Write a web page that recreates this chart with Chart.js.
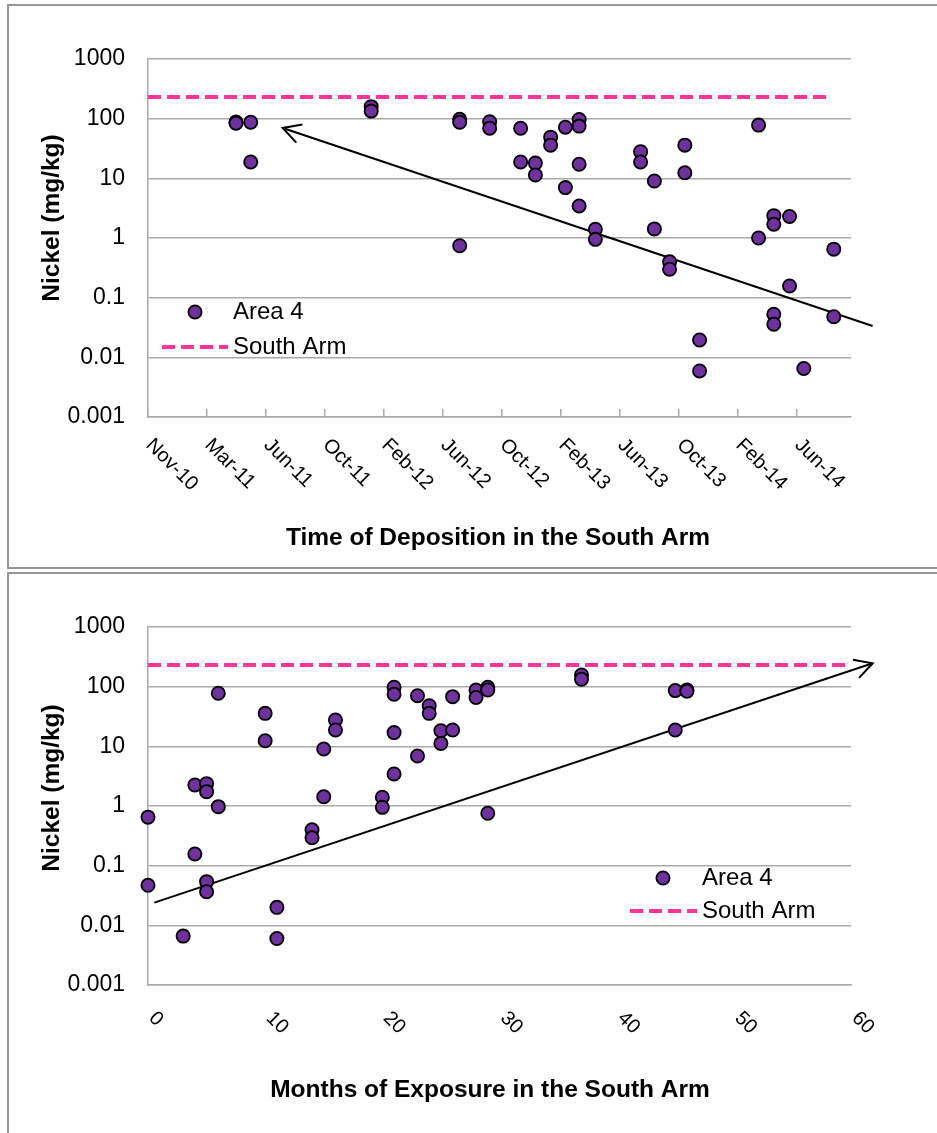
<!DOCTYPE html>
<html>
<head>
<meta charset="utf-8">
<script src="https://cdn.jsdelivr.net/npm/chart.js@4.4.0/dist/chart.umd.min.js"></script>
<style>
body{margin:0;background:#fff;width:937px;height:1133px;overflow:hidden;position:relative}
.panel{position:absolute;left:7px;width:980px;border:2px solid #969696;box-sizing:border-box}
#p1{top:4px;height:565px}
#p2{top:572px;height:600px}
canvas{position:absolute;left:0}
#c1{top:0}
#c2{top:570px}
</style>
</head>
<body>
<div class="panel" id="p1"></div>
<div class="panel" id="p2"></div>
<canvas id="c1" width="937" height="570"></canvas>
<canvas id="c2" width="937" height="563"></canvas>
<script>
// top chart: time of deposition
const depTickLabels = ['Nov-10','Mar-11','Jun-11','Oct-11','Feb-12','Jun-12','Oct-12','Feb-13','Jun-13','Oct-13','Feb-14','Jun-14'];
const depAxisStart = '2010-11-01';
const depTickStep = 120;   // days between labels
const depAxisDays = 1430;
const depDates = ['2011-04-29','2011-04-29','2011-05-29','2011-05-29','2012-01-29','2012-01-29',
  '2012-07-27','2012-07-27','2012-07-27','2012-09-26','2012-09-26','2012-11-28','2012-11-28',
  '2012-12-28','2012-12-28','2013-01-28','2013-01-28','2013-02-27','2013-02-27',
  '2013-03-27','2013-03-27','2013-03-27','2013-03-27','2013-04-29','2013-04-29',
  '2013-07-30','2013-07-30','2013-08-27','2013-08-27','2013-09-27','2013-09-27',
  '2013-10-28','2013-10-28','2013-11-27','2013-11-27','2014-03-27','2014-03-27',
  '2014-04-27','2014-04-27','2014-04-27','2014-04-27','2014-05-29','2014-05-29',
  '2014-06-27','2014-08-27','2014-08-27'];
const depNickel = [88,84,87,18.8,159,134,
  98,87,0.74,89,69,69,18.8,
  18,11.4,49,36,72,7,
  97,75,17.2,3.44,1.4,0.95,
  28,18.8,9,1.42,0.4,0.3,
  36,12.4,0.0195,0.0059,78,1.0,
  2.37,1.7,0.0526,0.0358,2.29,0.157,
  0.0065,0.65,0.048];
const depSouthArmDates = ['2010-11-01','2014-08-15'];
const depArrowDates = ['2014-11-14','2011-08-02'];   // tail, head
const depArrowNickel = [0.0335, 69.8];

// bottom chart: months of exposure
const expTicks = [0,10,20,30,40,50,60];
const expMonths = [0,0,3,4,4,5,5,5,5,6,6,10,10,11,11,14,14,15,15,16,16,
  20,20,21,21,21,21,23,23,24,24,25,25,26,26,28,28,29,29,29,37,37,45,45,46,46];
const expNickel = [0.65,0.047,0.0066,2.25,0.157,2.37,1.74,0.054,0.0366,77.5,0.975,35.7,12.4,0.02,0.006,0.4,0.294,9,1.43,27.6,18.8,
  1.4,0.95,97.5,74.5,17,3.44,70.6,6.9,48,35.7,18.3,11.2,68,18.8,88,66,97.5,88,0.755,157,133,86,18.8,88,84];
const expSouthArmMonths = [0,60];
const expArrowMonths = [0.54, 61.85];   // tail, head
const expArrowNickel = [0.024, 246.5];

const yTicks = [0.001,0.01,0.1,1,10,100,1000];
const southArm = 230;

const FONT = '"Liberation Sans", Arial, sans-serif';
const gridColor = '#a9a9a9';
Chart.defaults.font.family = FONT;

function day(s){ return Date.parse(s)/864e5; }

const deco = {
  id: 'deco',
  afterDraw(chart, args, o){
    const ctx = chart.ctx, a = chart.chartArea, xs = chart.scales.x;
    ctx.save();
    // arrow head on the hand drawn line
    const pts = chart.getDatasetMeta(2).data;
    const tail = pts[0], tip = pts[1];
    const ang = Math.atan2(tip.y - tail.y, tip.x - tail.x);
    ctx.strokeStyle = '#000'; ctx.lineWidth = 2;
    ctx.beginPath();
    ctx.moveTo(tip.x - 20*Math.cos(ang - 0.5), tip.y - 20*Math.sin(ang - 0.5));
    ctx.lineTo(tip.x, tip.y);
    ctx.lineTo(tip.x - 20*Math.cos(ang + 0.5), tip.y - 20*Math.sin(ang + 0.5));
    ctx.stroke();

    ctx.fillStyle = '#000';
    // slanted x tick labels
    ctx.font = '20px ' + FONT;
    ctx.textAlign = 'left'; ctx.textBaseline = 'middle';
    xs.ticks.forEach((t, i) => {
      ctx.save();
      ctx.translate(xs.getPixelForValue(t.value) + o.labelDx, a.bottom + o.labelDy);
      ctx.rotate(Math.PI/4);
      ctx.fillText(o.labels[i], 0, 0);
      ctx.restore();
    });
    // axis titles
    ctx.font = 'bold 24.5px ' + FONT;
    ctx.textAlign = 'center';
    ctx.fillText(o.xTitle, o.xTitleX, o.xTitleY);
    ctx.save();
    ctx.translate(52, o.yTitleY);
    ctx.rotate(-Math.PI/2);
    ctx.fillText('Nickel (mg/kg)', 0, 0);
    ctx.restore();

    // legend
    const d0 = chart.data.datasets[0], d1 = chart.data.datasets[1];
    const L = o.legend;
    ctx.beginPath();
    ctx.arc(L.markX, L.y1, d0.pointRadius, 0, Math.PI*2);
    ctx.fillStyle = d0.backgroundColor; ctx.fill();
    ctx.lineWidth = d0.borderWidth; ctx.strokeStyle = d0.borderColor; ctx.stroke();
    ctx.beginPath();
    ctx.setLineDash(d1.borderDash);
    ctx.lineWidth = d1.borderWidth; ctx.strokeStyle = d1.borderColor;
    ctx.moveTo(L.lineX0, L.y2); ctx.lineTo(L.lineX1, L.y2); ctx.stroke();
    ctx.setLineDash([]);
    ctx.fillStyle = '#000';
    ctx.font = '24px ' + FONT;
    ctx.textAlign = 'left';
    ctx.fillText(d0.label, L.textX, L.y1);
    ctx.fillText(d1.label, L.textX, L.y2);
    ctx.restore();
  }
};

function datasets(xs, ys, saX, arX, arY){
  return [
    { label: 'Area 4', data: xs.map((x, i) => ({x: x, y: ys[i]})),
      backgroundColor: '#7030a0', borderColor: '#000', borderWidth: 1.8, pointRadius: 6.6, clip: false },
    { label: 'South Arm', data: saX.map(x => ({x: x, y: southArm})), showLine: true,
      borderColor: '#ff3399', borderWidth: 4, borderDash: [13, 6], pointRadius: 0 },
    { label: 'trend', data: arX.map((x, i) => ({x: x, y: arY[i]})), showLine: true,
      borderColor: '#000', borderWidth: 2, pointRadius: 0, clip: false }
  ];
}

function yScale(){
  return {
    type: 'logarithmic', min: 0.001, max: 1000,
    afterBuildTicks: s => { s.ticks = yTicks.map(v => ({value: v})); },
    afterFit: s => { s.width = 148; },
    ticks: { font: {size: 23}, color: '#000', padding: 23, callback: v => String(v) },
    grid: { color: gridColor, lineWidth: 1.5, drawTicks: false },
    border: { color: gridColor, width: 1.5 }
  };
}

const depStart = day(depAxisStart);

new Chart(document.getElementById('c1'), {
  type: 'scatter',
  data: { datasets: datasets(depDates.map(day), depNickel, depSouthArmDates.map(day),
                             depArrowDates.map(day), depArrowNickel) },
  options: {
    responsive: false, animation: false, devicePixelRatio: 1, events: [],
    layout: { padding: {left: 0, top: 59, right: 86, bottom: 0} },
    plugins: {
      legend: {display: false}, tooltip: {enabled: false},
      deco: { labels: depTickLabels, labelDx: 1, labelDy: 25,
              xTitle: 'Time of Deposition in the South Arm', xTitleX: 498, xTitleY: 538, yTitleY: 218,
              legend: {markX: 195, y1: 312, y2: 347, lineX0: 162, lineX1: 228, textX: 233} }
    },
    scales: {
      x: {
        type: 'linear', min: depStart, max: depStart + depAxisDays,
        afterBuildTicks: s => { s.ticks = depTickLabels.map((l, i) => ({value: depStart + i*depTickStep})); },
        afterFit: s => { s.height = 153; },
        ticks: { display: false },
        grid: { drawOnChartArea: false, drawTicks: true, tickLength: -8, color: gridColor, lineWidth: 1.5 },
        border: { color: gridColor, width: 1.5 }
      },
      y: yScale()
    }
  },
  plugins: [deco]
});

new Chart(document.getElementById('c2'), {
  type: 'scatter',
  data: { datasets: datasets(expMonths, expNickel, expSouthArmMonths, expArrowMonths, expArrowNickel) },
  options: {
    responsive: false, animation: false, devicePixelRatio: 1, events: [],
    layout: { padding: {left: 0, top: 57, right: 86, bottom: 0} },
    plugins: {
      legend: {display: false}, tooltip: {enabled: false},
      deco: { labels: expTicks.map(String), labelDx: 4, labelDy: 30,
              xTitle: 'Months of Exposure in the South Arm', xTitleX: 490, xTitleY: 520, yTitleY: 218,
              legend: {markX: 663, y1: 308, y2: 341, lineX0: 630, lineX1: 697, textX: 702} }
    },
    scales: {
      x: {
        type: 'linear', min: 0, max: 60,
        afterBuildTicks: s => { s.ticks = expTicks.map(v => ({value: v})); },
        afterFit: s => { s.height = 148; },
        ticks: { display: false },
        grid: { display: false },
        border: { color: gridColor, width: 1.5 }
      },
      y: yScale()
    }
  },
  plugins: [deco]
});
</script>
</body>
</html>
